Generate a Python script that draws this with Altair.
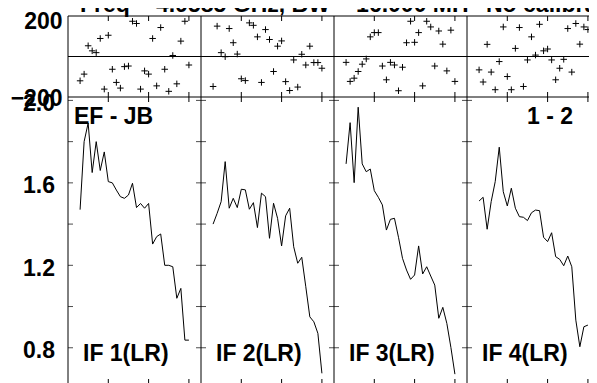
import altair as alt
import pandas as pd

# ---------------- data ----------------
channels = list(range(3, 31))
panel_names = ["IF 1(LR)", "IF 2(LR)", "IF 3(LR)", "IF 4(LR)"]

phase_if1 = [-120, -87, 53, 28, 19, 89, -161, 105, -63, -128, -156, -50, -47, 174,
             163, -161, -71, -87, 89, -145, 143, -63, -172, 5, -135, 76, 174, -42]
phase_if2 = [-148, 150, 19, -1, 138, 68, 12, -110, -119, 166, 154, 97, -128, 133,
             84, -74, 51, 77, -124, -168, -17, -151, 11, -42, 51, -30, -30, -58]
phase_if3 = [-29, -123, -107, -74, -38, -12, 97, 118, 118, -47, -115, -29, -42, -169,
             -53, 68, 174, 70, 118, -145, 174, 146, -47, 126, 61, -71, 130, -123]
phase_if4 = [-66, -126, 60, -77, -164, -25, 146, -99, -164, 40, 143, -148, -17, 97,
             7, 159, 28, 37, -17, -115, -58, -14, 138, -77, 163, 61, 146, 133]

amp_if1 = [1.47, 1.80, 1.89, 1.65, 1.80, 1.66, 1.75, 1.606, 1.60, 1.565, 1.533, 1.525,
           1.541, 1.598, 1.48, 1.50, 1.477, 1.50, 1.303, 1.339, 1.352, 1.20, 1.20, 1.193,
           1.04, 1.088, 0.837, 0.837]
amp_if2 = [1.40, 1.452, 1.509, 1.703, 1.477, 1.525, 1.48, 1.569, 1.566, 1.472, 1.504,
           1.383, 1.55, 1.533, 1.331, 1.501, 1.428, 1.294, 1.44, 1.477, 1.29, 1.21,
           1.239, 1.096, 0.95, 0.926, 0.87, 0.676]
amp_if3 = [1.692, 1.892, 1.601, 1.967, 1.692, 1.654, 1.667, 1.562, 1.53, 1.493, 1.371,
           1.423, 1.428, 1.336, 1.234, 1.177, 1.132, 1.153, 1.294, 1.158, 1.193, 1.148,
           1.104, 0.943, 0.996, 0.918, 0.802, 0.672]
amp_if4 = [1.512, 1.53, 1.375, 1.509, 1.606, 1.773, 1.557, 1.488, 1.574, 1.477, 1.436,
           1.433, 1.417, 1.455, 1.468, 1.465, 1.336, 1.315, 1.358, 1.242, 1.229, 1.198,
           1.245, 1.193, 0.934, 0.805, 0.902, 0.91]

title_text = "Freq = 4.9585 GHz, BW = 16.000 MH"
title_note = "No calibration"
baseline_label = "EF - JB"
corr_label = "1 - 2"

x_ticks = [10, 20, 30]
amp_ticks = [0.8, 1.0, 1.2, 1.4, 1.6, 1.8, 2.0]
amp_labels = [0.8, 1.2, 1.6, 2.0]
phase_labels = [-200, 200]

# ---------------- tables ----------------
phases = [phase_if1, phase_if2, phase_if3, phase_if4]
amps = [amp_if1, amp_if2, amp_if3, amp_if4]
phase_df = pd.DataFrame([{"panel": i, "ch": c, "phase": p}
                         for i, ser in enumerate(phases) for c, p in zip(channels, ser)])
amp_df = pd.DataFrame([{"panel": i, "ch": c, "amp": a}
                       for i, ser in enumerate(amps) for c, a in zip(channels, ser)])
xtick_df = pd.DataFrame([{"panel": i, "ch": t} for i in range(4) for t in x_ticks])
ytick_df = pd.DataFrame([{"panel": i, "ch": 0, "amp": a} for i in range(5) for a in amp_ticks])
div_df = pd.DataFrame([{"panel": i, "ch": 0} for i in range(4)])
label_df = pd.DataFrame([{"panel": i, "ch": 0, "name": n} for i, n in enumerate(panel_names)])
hline_df = pd.DataFrame({"phase": [200, 0, -200]})

NCH = 33          # channels per panel
FULLW = 532       # full width of the 4 panels (the last few px fall outside the page)
W, H, PH = 521, 368, 81
FONT = "Liberation Sans"

xpos_expr = f"datum.panel * {NCH} + datum.ch"
xs = alt.Scale(domain=[0, 4 * NCH], range=[0, FULLW], nice=False, zero=False)
X = alt.X("xpos:Q", scale=xs, axis=None)
phase_scale = alt.Scale(domain=[-200, 200], range=[PH, 0], nice=False, zero=False)
amp_scale = alt.Scale(domain=[0.6242, 2.0165], range=[H, PH], nice=False, zero=False)

lab = dict(labelFont=FONT, labelFontSize=23, labelFontWeight="bold", labelColor="black",
           ticks=False, domain=False, grid=False, title=None, labelFlush=False,
           labelOverlap=False, orient="left")

phase_pts = alt.Chart(phase_df).transform_calculate(xpos=xpos_expr).mark_point(
    shape="M-1,0H1M0,-1V1", size=42, filled=False, color="black", strokeWidth=1, opacity=1
).encode(
    x=X,
    y=alt.Y("phase:Q", scale=phase_scale,
            axis=alt.Axis(values=phase_labels, labelPadding=6,
                          labelOffset={"condition": {"test": "datum.value > 0", "value": 5}, "value": 1},
                          **lab)),
)

amp_line = alt.Chart(amp_df).transform_calculate(xpos=xpos_expr).mark_line(
    color="black", strokeWidth=1, clip=True
).encode(
    x=X,
    y=alt.Y("amp:Q", scale=amp_scale,
            axis=alt.Axis(values=amp_labels, format=".1f", labelPadding=13.5, labelOffset=3, **lab)),
    detail="panel:N",
)

hlines = alt.Chart(hline_df).mark_rule(color="black", strokeWidth=1).encode(
    y=alt.Y("phase:Q", scale=phase_scale, axis=None))

bottom_line = alt.Chart(pd.DataFrame({"k": [0]})).mark_rule(
    color="black", strokeWidth=1).encode(y=alt.value(H))

dividers = alt.Chart(div_df).transform_calculate(xpos=xpos_expr).mark_rule(
    color="black", strokeWidth=1).encode(x=X)

def xticks(y0, y1):
    return alt.Chart(xtick_df).transform_calculate(xpos=xpos_expr).mark_rule(
        color="black", strokeWidth=1).encode(x=X, y=alt.value(y0), y2=alt.value(y1))

yticks = alt.Chart(ytick_df).transform_calculate(xpos=xpos_expr).mark_tick(
    orient="horizontal", size=10, thickness=1, color="black", clip=True
).encode(x=X, y=alt.Y("amp:Q", scale=amp_scale, axis=None))

txt = dict(font=FONT, fontSize=23, fontWeight="bold", color="black", baseline="alphabetic")

panel_labels = alt.Chart(label_df).transform_calculate(xpos=xpos_expr).mark_text(
    align="left", dx=15, **txt).encode(x=X, y=alt.value(345), text="name:N")

def fixed_text(s, x, y, align="left"):
    return alt.Chart(pd.DataFrame({"t": [s]})).mark_text(align=align, **txt).encode(
        x=alt.value(x), y=alt.value(y), text="t:N")

chart = alt.layer(
    hlines, bottom_line, dividers,
    xticks(0, 5), xticks(PH - 5, PH + 5), xticks(H - 5, H),
    yticks,
    amp_line, phase_pts,
    panel_labels,
    fixed_text(baseline_label, 6, 108),
    fixed_text(corr_label, 505, 108, "right"),
    fixed_text(title_text, 12, -4.5),
    fixed_text(title_note, 418, -4.5),
).resolve_scale(y="independent").properties(
    width=W, height=H,
    autosize=alt.AutoSizeParams(type="none"),
    padding={"left": 60, "top": 8, "right": 0, "bottom": 0},
).configure_view(stroke="transparent")

chart.save("out.html", embed_options={"renderer": "svg", "actions": False})
